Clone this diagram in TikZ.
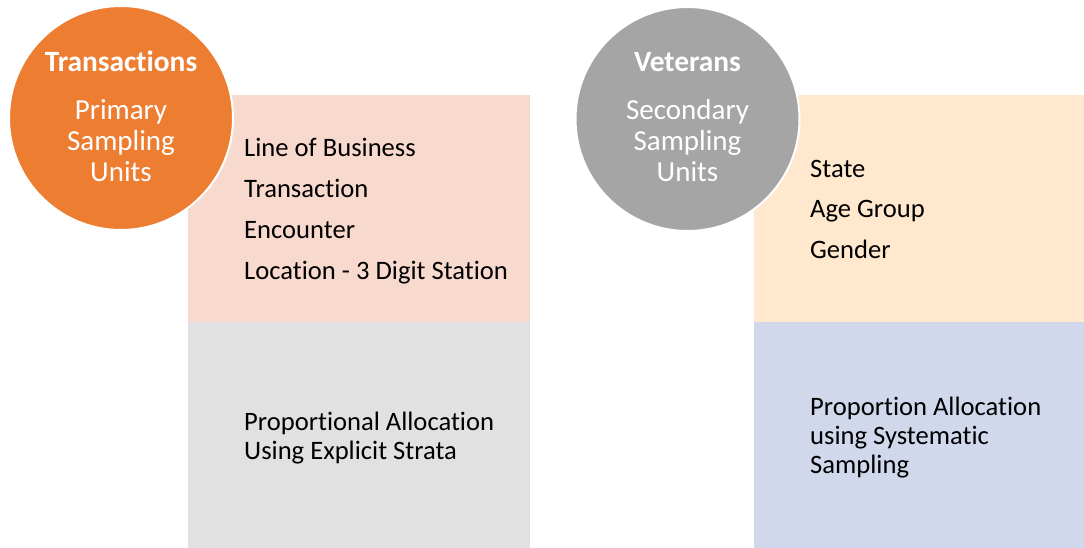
\documentclass[tikz,border=0pt]{standalone}
\usepackage{fontspec}
\setmainfont[RawFeature={-liga;-clig;-calt;-dlig}]{Carlito}
\definecolor{orangeC}{HTML}{ED7D31}
\definecolor{grayC}{HTML}{A5A5A5}
\definecolor{pinkBox}{HTML}{F8D9CE}
\definecolor{grayBox}{HTML}{E1E1E1}
\definecolor{peachBox}{HTML}{FFE8CE}
\definecolor{lavBox}{HTML}{D2D8EB}
\begin{document}
\begin{tikzpicture}[x=1pt,y=-1pt,
  boxstyle/.style={draw=none,inner sep=0pt,outer sep=0pt,anchor=north west},
  circ/.style={circle,draw=white,line width=2pt,minimum size=224pt,inner sep=0pt},
  ctitle/.style={anchor=base,text=white,font=\fontsize{29.4}{31}\selectfont\bfseries,inner sep=0pt},
  ctext/.style={anchor=base,text=white,font=\fontsize{29}{31}\selectfont,inner sep=0pt},
  btext/.style={anchor=base west,text=black,font=\fontsize{26.6}{30}\selectfont,inner sep=0pt}
]
\useasboundingbox (0,0) rectangle (1084,548);
% left boxes
\node[boxstyle,fill=pinkBox,minimum width=342pt,minimum height=227pt] (lt) at (188,95) {};
\node[boxstyle,fill=grayBox,minimum width=342pt,minimum height=226pt] (lb) at (188,322) {};
% right boxes
\node[boxstyle,fill=peachBox,minimum width=330pt,minimum height=227pt] (rt) at (754,95) {};
\node[boxstyle,fill=lavBox,minimum width=330pt,minimum height=226pt] (rb) at (754,322) {};
% circles
\node[circ,fill=orangeC] (lc) at (121,118) {};
\node[circ,fill=grayC] (rc) at (687.5,119) {};
% circle texts
\node[ctitle] (lc1) at (121,72) {Transactions};
\node[ctext] (lc2) at (121,119.5) {Primary};
\node[ctext] (lc3) at (121,150.5) {Sampling};
\node[ctext] (lc4) at (121,181.5) {Units};
\node[ctitle] (rc1) at (687.5,72) {Veterans};
\node[ctext] (rc2) at (687.5,119.5) {Secondary};
\node[ctext] (rc3) at (687.5,150.5) {Sampling};
\node[ctext] (rc4) at (687.5,181.5) {Units};
% left list
\node[btext] (l1) at (244,156.5) {Line of Business};
\node[btext] (l2) at (244,197.5) {Transaction};
\node[btext] (l3) at (244,238.5) {Encounter};
\node[btext] (l4) at (244,279.5) {Location - 3 Digit Station};
\node[btext] (l5) at (244,430) {Proportional Allocation};
\node[btext] (l6) at (244,459.5) {Using Explicit Strata};
% right list
\node[btext] (r1) at (810,177.5) {State};
\node[btext] (r2) at (810,218) {Age Group};
\node[btext] (r3) at (810,258.5) {Gender};
\node[btext] (r4) at (810,415.5) {Proportion Allocation};
\node[btext] (r5) at (810,444.5) {using Systematic};
\node[btext] (r6) at (810,473.5) {Sampling};
\end{tikzpicture}
\end{document}
